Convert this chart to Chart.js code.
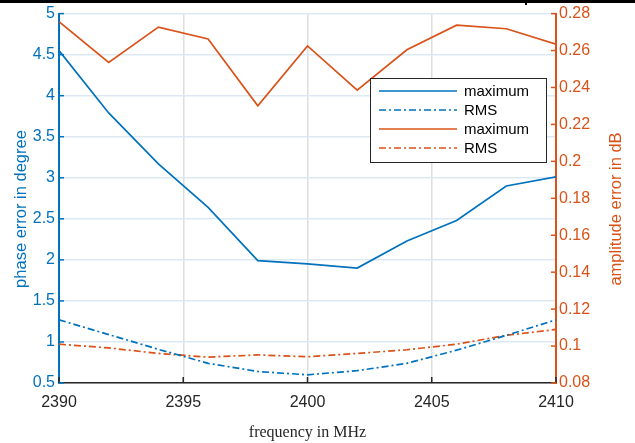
<!DOCTYPE html>
<html>
<head>
<meta charset="utf-8">
<script src="https://cdn.jsdelivr.net/npm/chart.js@4/dist/chart.umd.min.js"></script>
<style>
  body { margin: 0; background: #fff; }
  #wrap { position: relative; width: 635px; height: 443px; }
  #topline { position: absolute; left: 0; top: 0; width: 635px; height: 3px; background: #000; }
  #topmark { position: absolute; left: 525px; top: 0; width: 2px; height: 5px; background: #000; }
</style>
</head>
<body>
<div id="wrap">
  <canvas id="chart" width="635" height="443"></canvas>
  <div id="topline"></div>
  <div id="topmark"></div>
</div>
<script>
  var freq = [2390, 2392, 2394, 2396, 2398, 2400, 2402, 2404, 2406, 2408, 2410];
  var phaseMax = [4.55, 3.79, 3.17, 2.64, 1.99, 1.95, 1.90, 2.23, 2.48, 2.90, 3.01];
  var phaseRms = [1.27, 1.09, 0.91, 0.74, 0.64, 0.60, 0.65, 0.74, 0.90, 1.08, 1.27];
  var ampMax = [0.2756, 0.2536, 0.2727, 0.2663, 0.2301, 0.2625, 0.2385, 0.2604, 0.2737, 0.2718, 0.2634];
  var ampRms = [0.101, 0.099, 0.096, 0.094, 0.0952, 0.0942, 0.096, 0.098, 0.101, 0.1058, 0.109];
  var legendLabels = ['maximum', 'RMS', 'maximum', 'RMS'];

  var blue = '#0072BD';
  var orange = '#D95319';
  var dashDot = [7, 3, 2, 3];
  var font = '"Liberation Sans", Arial, sans-serif';

  function pts(ys) {
    return freq.map(function (f, i) { return { x: f, y: ys[i] }; });
  }

  function vtitle(ctx, text, color, x, y) {
    ctx.save();
    ctx.translate(x, y);
    ctx.rotate(-Math.PI / 2);
    ctx.font = '16.5px ' + font;
    ctx.fillStyle = color;
    ctx.textAlign = 'center';
    ctx.textBaseline = 'middle';
    ctx.fillText(text, 0, 0);
    ctx.restore();
  }

  // inward tick marks, y titles and the legend box, like the original figure
  var extras = {
    id: 'extras',
    afterDraw: function (chart) {
      var ctx = chart.ctx;
      var a = chart.chartArea;
      var sx = chart.scales.x, yl = chart.scales.y, yr = chart.scales.y2;
      ctx.save();
      ctx.lineWidth = 1.5;
      ctx.strokeStyle = '#262626';
      sx.ticks.forEach(function (t) {
        var px = sx.getPixelForValue(t.value);
        ctx.beginPath(); ctx.moveTo(px, a.bottom); ctx.lineTo(px, a.bottom - 6); ctx.stroke();
      });
      ctx.strokeStyle = blue;
      yl.ticks.forEach(function (t) {
        var py = yl.getPixelForValue(t.value);
        ctx.beginPath(); ctx.moveTo(a.left, py); ctx.lineTo(a.left + 5, py); ctx.stroke();
      });
      ctx.strokeStyle = orange;
      yr.ticks.forEach(function (t) {
        var py = yr.getPixelForValue(t.value);
        ctx.beginPath(); ctx.moveTo(a.right, py); ctx.lineTo(a.right - 5, py); ctx.stroke();
      });

      vtitle(ctx, 'phase error in degree', blue, 21, 209);
      vtitle(ctx, 'amplitude error in dB', orange, 616, 209);

      // legend
      var bx = 370, by = 78, bw = 176, bh = 84;
      ctx.fillStyle = '#fff';
      ctx.fillRect(bx, by, bw, bh);
      ctx.strokeStyle = '#262626';
      ctx.lineWidth = 1;
      ctx.setLineDash([]);
      ctx.strokeRect(bx + 0.5, by + 0.5, bw, bh);
      ctx.font = '15px ' + font;
      ctx.textBaseline = 'middle';
      chart.data.datasets.forEach(function (ds, i) {
        var ry = by + 13 + i * 19;
        ctx.strokeStyle = ds.borderColor;
        ctx.lineWidth = ds.borderWidth;
        ctx.setLineDash(ds.borderDash || []);
        ctx.beginPath(); ctx.moveTo(bx + 9, ry); ctx.lineTo(bx + 87, ry); ctx.stroke();
        ctx.setLineDash([]);
        ctx.fillStyle = '#000';
        ctx.fillText(legendLabels[i], bx + 94, ry + 1);
      });
      ctx.restore();
    }
  };

  var ctx = document.getElementById('chart').getContext('2d');
  window.myChart = new Chart(ctx, {
    type: 'line',
    data: {
      datasets: [
        { data: pts(phaseMax), yAxisID: 'y', borderColor: blue, borderWidth: 1.7 },
        { data: pts(phaseRms), yAxisID: 'y', borderColor: blue, borderWidth: 1.7, borderDash: dashDot },
        { data: pts(ampMax), yAxisID: 'y2', borderColor: orange, borderWidth: 1.7 },
        { data: pts(ampRms), yAxisID: 'y2', borderColor: orange, borderWidth: 1.7, borderDash: dashDot }
      ]
    },
    options: {
      responsive: false,
      animation: false,
      events: [],
      layout: { padding: { top: 9, left: 0, right: 0, bottom: 0 } },
      elements: { point: { radius: 0 }, line: { tension: 0, fill: false } },
      plugins: { legend: { display: false }, tooltip: { enabled: false } },
      scales: {
        x: {
          type: 'linear', min: 2390, max: 2410,
          afterFit: function (s) { s.height = 60; },
          ticks: { stepSize: 5, color: '#262626', font: { size: 16, family: font }, padding: 10,
                   callback: function (v) { return String(v); } },
          grid: { color: '#dedede', lineWidth: 1.5, tickLength: 0 },
          border: { color: '#262626', width: 1.5 },
          title: { display: true, text: 'frequency in MHz', color: '#262626',
                   font: { size: 16, family: '"Liberation Serif", "Times New Roman", serif' }, padding: { top: 10, bottom: 1 } }
        },
        y: {
          position: 'left', min: 0.5, max: 5,
          afterFit: function (s) { s.width = 59; },
          ticks: { stepSize: 0.5, color: blue, font: { size: 16, family: font }, padding: 4,
                   callback: function (v) { return String(+v.toFixed(2)); } },
          grid: { color: '#dce9f5', lineWidth: 1.5, tickLength: 0 },
          border: { color: blue, width: 2 }
        },
        y2: {
          position: 'right', min: 0.08, max: 0.28,
          afterFit: function (s) { s.width = 79; },
          ticks: { stepSize: 0.02, color: orange, font: { size: 16, family: font }, padding: 3,
                   callback: function (v) { return String(+v.toFixed(2)); } },
          grid: { drawOnChartArea: false, tickLength: 0 },
          border: { color: orange, width: 2 }
        }
      }
    },
    plugins: [extras]
  });
</script>
</body>
</html>
